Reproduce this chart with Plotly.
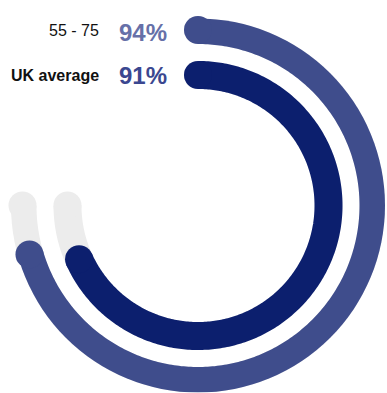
import numpy as np
import plotly.graph_objects as go

labels = ["55 - 75", "UK average"]
values = [94, 91]
value_text = ["94%", "91%"]
ring_r = [0.9385, 0.6979]
arc_colors = ["#3f4d8c", "#0c1f6e"]
text_colors = ["#6670a8", "#3b4790"]
label_weights = ["normal", "bold"]
track_color = "#ececec"
max_angle = 270.0

W, H = 387, 393
cx, cy, half = 198.0, 205.5, 187.0
STROKE = 28

fig = go.Figure()

def add_arc(r, end_deg, color):
    th = np.linspace(0, end_deg, 300)
    fig.add_trace(go.Scatterpolar(
        r=[r] * len(th), theta=th, mode="lines",
        line=dict(color=color, width=STROKE),
        hoverinfo="skip", showlegend=False, cliponaxis=False))
    fig.add_trace(go.Scatterpolar(
        r=[r, r], theta=[0, end_deg], mode="markers",
        marker=dict(color=color, size=STROKE, line=dict(width=0)),
        hoverinfo="skip", showlegend=False, cliponaxis=False))

for r in ring_r:
    add_arc(r, max_angle, track_color)
for r, v, c in zip(ring_r, values, arc_colors):
    add_arc(r, v / 100.0 * max_angle, c)

fig.update_layout(
    width=W, height=H,
    margin=dict(l=0, r=0, t=0, b=0),
    paper_bgcolor="white",
    polar=dict(
        domain=dict(x=[(cx - half) / W, (cx + half) / W],
                    y=[1 - (cy + half) / H, 1 - (cy - half) / H]),
        bgcolor="rgba(0,0,0,0)",
        radialaxis=dict(range=[0, 1], visible=False, showgrid=False),
        angularaxis=dict(rotation=90, direction="clockwise", visible=False,
                         showgrid=False, showline=False, ticks=""),
    ),
)

ys = [31, 75]
for lab, vt, tc, wgt, y in zip(labels, value_text, text_colors, label_weights, ys):
    fig.add_annotation(
        x=101 / W, y=1 - y / H, xref="paper", yref="paper",
        xanchor="right", yanchor="middle", showarrow=False,
        text=lab,
        font=dict(family="Liberation Sans, Arial, sans-serif", size=16,
                  color="#111111", weight=wgt))
    fig.add_annotation(
        x=117 / W, y=1 - (y + 1) / H, xref="paper", yref="paper",
        xanchor="left", yanchor="middle", showarrow=False,
        text=vt,
        font=dict(family="Liberation Sans, Arial, sans-serif", size=24,
                  color=tc, weight="bold"))

fig.write_html("out.html")
